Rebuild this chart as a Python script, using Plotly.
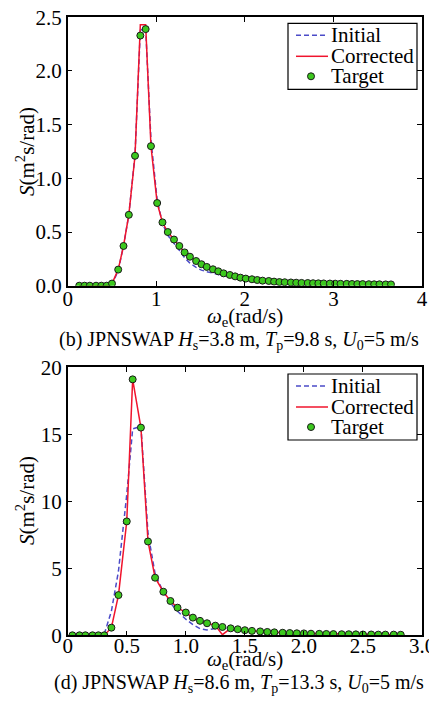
import plotly.graph_objects as go

# (b) Hs=3.8 m, Tp=9.8 s
w_b = [0.13, 0.19, 0.25, 0.32, 0.38, 0.44, 0.50, 0.57, 0.63, 0.69,
       0.76, 0.82, 0.88, 0.94, 1.01, 1.07, 1.13, 1.20, 1.26, 1.32,
       1.38, 1.45, 1.51, 1.57, 1.64, 1.70, 1.76, 1.83, 1.89, 1.95,
       2.01, 2.08, 2.14, 2.20, 2.27, 2.33, 2.39, 2.45, 2.52, 2.58,
       2.64, 2.71, 2.77, 2.83, 2.89, 2.96, 3.02, 3.08, 3.15, 3.21,
       3.27, 3.33, 3.40, 3.46, 3.52, 3.59, 3.65]
target_b = [0, 0, 0, 0, 0, 0, 0.02, 0.15, 0.37, 0.66,
            1.21, 2.33, 2.39, 1.30, 0.77, 0.59, 0.50, 0.43, 0.37, 0.31,
            0.27, 0.23, 0.20, 0.175, 0.153, 0.134, 0.115, 0.10, 0.087, 0.075,
            0.066, 0.060, 0.053, 0.047, 0.044, 0.038, 0.034, 0.032, 0.030, 0.028,
            0.026, 0.025, 0.023, 0.022, 0.021, 0.020, 0.019, 0.018, 0.017, 0.016,
            0.015, 0.015, 0.014, 0.013, 0.013, 0.012, 0.012]
corrected_b = [0, 0, 0, 0, 0, 0, 0.02, 0.15, 0.37, 0.66,
               1.21, 2.43, 2.43, 1.30, 0.77, 0.59, 0.50, 0.43, 0.37, 0.31,
               0.27, 0.23, 0.20, 0.175, 0.153, 0.134, 0.115, 0.10, 0.087, 0.075,
               0.066, 0.060, 0.053, 0.047, 0.044, 0.038, 0.034, 0.032, 0.030, 0.028,
               0.026, 0.025, 0.023, 0.022, 0.021, 0.020, 0.019, 0.018, 0.017, 0.016,
               0.015, 0.015, 0.014, 0.013, 0.013, 0.012, 0.012]
initial_b = [0, 0, 0, 0, 0, 0, 0.01, 0.14, 0.37, 0.66,
             1.22, 2.38, 2.40, 1.36, 0.80, 0.58, 0.47, 0.40, 0.33, 0.26,
             0.21, 0.17, 0.145, 0.13, 0.12, 0.105, 0.095, 0.085, 0.075, 0.065,
             0.058, 0.053, 0.048, 0.045, 0.042, 0.038, 0.034, 0.032, 0.030, 0.028,
             0.026, 0.025, 0.023, 0.022, 0.021, 0.020, 0.019, 0.018, 0.017, 0.016,
             0.015, 0.015, 0.014, 0.013, 0.013, 0.012, 0.012]

# (d) Hs=8.6 m, Tp=13.3 s
w_d = [0.04, 0.10, 0.15, 0.21, 0.26, 0.31, 0.37, 0.43, 0.50, 0.55,
       0.62, 0.68, 0.74, 0.81, 0.87, 0.93, 1.00, 1.06, 1.12, 1.18,
       1.25, 1.31, 1.38, 1.44, 1.50, 1.56, 1.63, 1.69, 1.75, 1.82,
       1.88, 1.94, 2.00, 2.06, 2.13, 2.19, 2.25, 2.32, 2.38, 2.44,
       2.50, 2.57, 2.63, 2.69, 2.76, 2.82]
target_d = [0, 0, 0, 0, 0, 0, 0.57, 3.0, 8.5, 19.1,
            15.5, 7.0, 4.3, 3.25, 2.56, 2.06, 1.70, 1.32, 1.08, 0.90,
            0.72, 0.62, 0.52, 0.45, 0.38, 0.33, 0.29, 0.25, 0.22, 0.19,
            0.17, 0.15, 0.14, 0.12, 0.11, 0.10, 0.09, 0.08, 0.08, 0.07,
            0.06, 0.06, 0.05, 0.05, 0.05, 0.04]
corrected_d = [0, 0, 0, 0, 0, 0, 0.57, 3.0, 8.5, 19.1,
               15.5, 7.0, 4.3, 3.25, 2.56, 2.06, 1.70, 1.32, 1.08, 0.90,
               0.72, 0.05, 0.52, 0.45, 0.38, 0.33, 0.29, 0.25, 0.22, 0.19,
               0.17, 0.15, 0.14, 0.12, 0.11, 0.10, 0.09, 0.08, 0.08, 0.07,
               0.06, 0.06, 0.05, 0.05, 0.05, 0.04]
initial_d = [0, 0, 0, 0, 0, 0.1, 1.8, 4.8, 10.5, 15.4,
             15.6, 7.6, 4.6, 3.2, 2.4, 1.8, 1.2, 0.8, 0.5, 0.4,
             0.5, 0.58, 0.52, 0.45, 0.38, 0.33, 0.29, 0.25, 0.22, 0.19,
             0.17, 0.15, 0.14, 0.12, 0.11, 0.10, 0.09, 0.08, 0.08, 0.07,
             0.06, 0.06, 0.05, 0.05, 0.05, 0.04]

series_names = ["Initial", "Corrected", "Target"]

BLUE = "#4b4bc8"
RED = "#f0142d"
GREEN = "#3cc81e"
EDGE = "#1a1a1a"
FONT = "Liberation Serif, Times New Roman, Times, serif"

# the page body keeps an 8px margin, so the figure starts at (8, 8)
W, H, OFF = 429, 701, 8
def fx(px):
    return (px - OFF) / W
def fy(py):
    return 1 - (py - OFF) / H

fig = go.Figure()

def add_panel(x, init, corr, targ, xa, ya):
    fig.add_trace(go.Scatter(x=x, y=init, mode="lines", name=series_names[0],
                             line=dict(color=BLUE, width=1.5, dash="5px,3px"),
                             xaxis=xa, yaxis=ya, showlegend=False))
    fig.add_trace(go.Scatter(x=x, y=corr, mode="lines", name=series_names[1],
                             line=dict(color=RED, width=1.5),
                             xaxis=xa, yaxis=ya, showlegend=False))
    fig.add_trace(go.Scatter(x=x, y=targ, mode="markers", name=series_names[2],
                             marker=dict(color=GREEN, size=7, line=dict(color=EDGE, width=1)),
                             xaxis=xa, yaxis=ya, showlegend=False))

add_panel(w_b, initial_b, corrected_b, target_b, "x", "y")
add_panel(w_d, initial_d, corrected_d, target_d, "x2", "y2")

ax = dict(showline=True, linecolor="black", linewidth=1.5, mirror="ticks",
          ticks="inside", ticklen=5, tickcolor="black", showgrid=False,
          zeroline=False, automargin=False, ticklabeloverflow="allow",
          tickfont=dict(family=FONT, size=21, color="black"))

xdom = [fx(67.7), fx(422)]
fig.update_layout(
    width=W, height=H,
    margin=dict(l=0, r=0, t=0, b=0, autoexpand=False),
    paper_bgcolor="white", plot_bgcolor="white",
    font=dict(family=FONT, size=21, color="black"),
    showlegend=False,
    xaxis=dict(ax, domain=xdom, anchor="y", range=[0, 4], ticklabelstandoff=-7,
               tickvals=[0, 1, 2, 3, 4], ticktext=["0", "1", "2", "3", "4"]),
    yaxis=dict(ax, domain=[fy(285.7), fy(17.3)], anchor="x", range=[0, 2.5],
               tickvals=[0, 0.5, 1, 1.5, 2, 2.5],
               ticktext=["0.0", "0.5", "1.0", "1.5", "2.0", "2.5"]),
    xaxis2=dict(ax, domain=xdom, anchor="y2", range=[0, 3], ticklabelstandoff=-9,
                tickvals=[0, 0.5, 1, 1.5, 2, 2.5, 3],
                ticktext=["0", "0.5", "1.0", "1.5", "2.0", "2.5", "3.0"]),
    yaxis2=dict(ax, domain=[fy(635.3), fy(367.3)], anchor="x2", range=[0, 20],
                tickvals=[0, 5, 10, 15, 20]),
)

# legend boxes drawn in the figure, one per panel
for top in (23.3, 374):
    fig.add_shape(type="rect", xref="paper", yref="paper",
                  x0=fx(288), x1=fx(417), y0=fy(top + 66), y1=fy(top),
                  line=dict(color="black", width=1.2), fillcolor="white", layer="above")
    rows = [top + 12, top + 33, top + 53]
    fig.add_shape(type="line", xref="paper", yref="paper",
                  x0=fx(296), x1=fx(328), y0=fy(rows[0]), y1=fy(rows[0]),
                  line=dict(color=BLUE, width=1.5, dash="5px,3px"), layer="above")
    fig.add_shape(type="line", xref="paper", yref="paper",
                  x0=fx(296), x1=fx(328), y0=fy(rows[1]), y1=fy(rows[1]),
                  line=dict(color=RED, width=1.5), layer="above")
    fig.add_shape(type="circle", xref="paper", yref="paper",
                  x0=fx(307.5), x1=fx(314.5), y0=fy(rows[2] + 3.5), y1=fy(rows[2] - 3.5),
                  line=dict(color=EDGE, width=1), fillcolor=GREEN, layer="above")
    for name, ry in zip(series_names, rows):
        fig.add_annotation(x=fx(329), y=fy(ry), xref="paper", yref="paper",
                           text=name, showarrow=False, xanchor="left", yanchor="middle",
                           font=dict(family=FONT, size=21, color="black"))

ylab = "<i>S</i>(m<sup>2</sup>s/rad)"
xlab = "<i>ω</i><sub>e</sub>(rad/s)"
cap_b = "(b) JPNSWAP <i>H</i><sub>s</sub>=3.8 m, <i>T</i><sub>p</sub>=9.8 s, <i>U</i><sub>0</sub>=5 m/s"
cap_d = "(d) JPNSWAP <i>H</i><sub>s</sub>=8.6 m, <i>T</i><sub>p</sub>=13.3 s, <i>U</i><sub>0</sub>=5 m/s"

annots = [
    (25, 152, ylab, -90, 21),
    (245, 317, xlab, 0, 21),
    (239, 340, cap_b, 0, 20),
    (25, 501, ylab, -90, 21),
    (245, 660, xlab, 0, 21),
    (239, 683, cap_d, 0, 20),
]
for px, py, txt, ang, size in annots:
    fig.add_annotation(x=fx(px), y=fy(py), xref="paper", yref="paper",
                       text=txt, showarrow=False, textangle=ang,
                       xanchor="center", yanchor="middle",
                       font=dict(family=FONT, size=size, color="black"))

fig.write_html("out.html")
